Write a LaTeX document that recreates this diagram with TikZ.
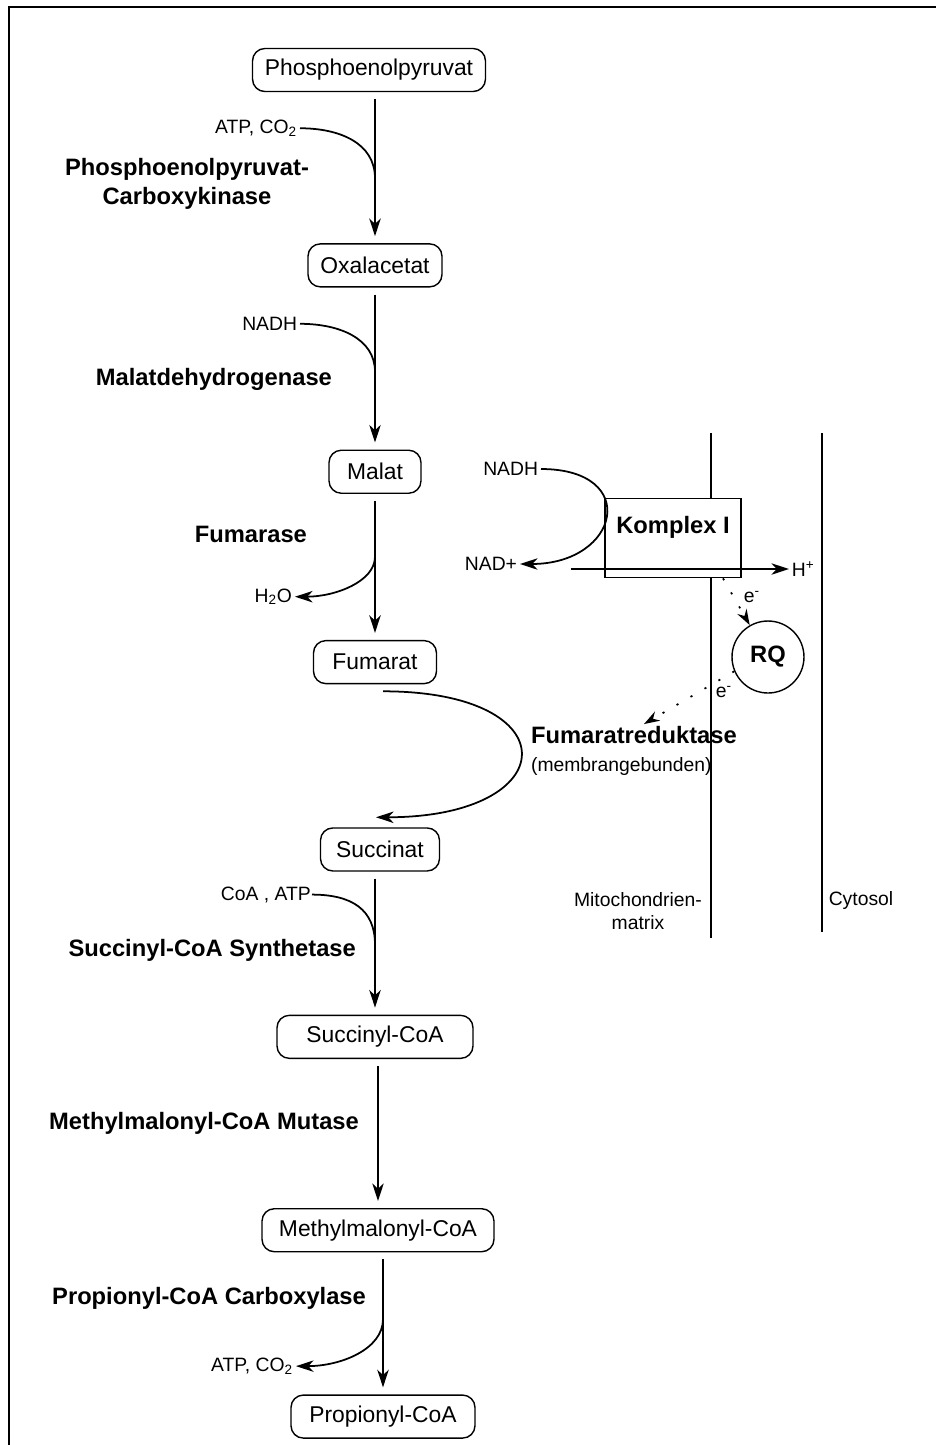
\documentclass[tikz,border=0pt]{standalone}
\usepackage{fontspec}
\setmainfont{Liberation Sans}
\usetikzlibrary{arrows.meta,positioning}

\begin{document}
\begin{tikzpicture}[
  x=0.02cm, y=-0.02cm,
  node distance=2.9cm,
  metab/.style={draw, rounded corners=7pt, align=center, minimum height=0.86cm,
    line width=0.8pt, font=\fontsize{13}{15.6}\selectfont},
  enz/.style={align=center, inner sep=1pt, font=\fontsize{13.5}{16.2}\selectfont\bfseries},
  cof/.style={inner sep=1.5pt, font=\fontsize{11}{13.2}\selectfont},
  arrow/.style={-{Stealth[length=10pt, width=6.5pt, inset=3pt]}, line width=1pt},
  side/.style={line width=1pt},
  eflow/.style={-{Stealth[length=9pt, width=6pt, inset=3pt]}, line width=1pt,
    dash pattern=on 1.2pt off 8pt},
  membrane/.style={line width=1pt}
]
\useasboundingbox (0,0) rectangle (936,1445);
\draw[line width=1.5pt] (9,1445) -- (9,7) -- (936,7);

% Stoffwechselweg
\node[metab, minimum width=4.66cm] (pep) at (369,70) {Phosphoenolpyruvat};
\node[metab, minimum width=2.68cm, below=3.02cm of pep, xshift=0.12cm] (oxal) {Oxalacetat};
\node[metab, minimum width=1.84cm, below=3.24cm of oxal] (malat) {Malat};
\node[metab, minimum width=2.46cm, below=2.92cm of malat] (fum) {Fumarat};
\node[metab, minimum width=2.38cm, below=2.86cm of fum, xshift=0.1cm] (succ) {Succinat};
\node[metab, minimum width=3.92cm, below=2.86cm of succ, xshift=-0.1cm] (succoa) {Succinyl-CoA};
\node[metab, minimum width=4.64cm, below=2.98cm of succoa, xshift=0.06cm] (mmcoa) {Methylmalonyl-CoA};
\node[metab, minimum width=3.68cm, below=2.84cm of mmcoa, xshift=0.1cm] (propcoa) {Propionyl-CoA};

\draw[arrow, shorten <=4pt, shorten >=4pt] (pep.south -| oxal) -- coordinate[pos=0.57] (j1) (oxal);
\draw[arrow, shorten <=4pt, shorten >=4pt] (oxal) -- coordinate[pos=0.52] (j2) (malat);
\draw[arrow, shorten <=4pt, shorten >=4pt] (malat) -- coordinate[pos=0.43] (j3) (fum);
\draw[arrow] ([shift={(8,7)}]fum.south) .. controls +(188,0) and +(188,0) .. ([shift={(-4,-10)}]succ.north);
\draw[arrow, shorten <=4pt, shorten >=4pt] (succ.south -| succoa) -- coordinate[pos=0.51] (j4) (succoa);
\draw[arrow, shorten <=4pt, shorten >=4pt] (succoa.south -| mmcoa) -- (mmcoa);
\draw[arrow, shorten <=4pt, shorten >=4pt] (mmcoa.south -| propcoa) -- coordinate[pos=0.47] (j5) (propcoa);

% Cosubstrate
\node[cof, anchor=east] (atp1) at ([shift={(-75,-50)}]j1) {ATP, CO\textsubscript{2}};
\draw[side] (atp1.east) .. controls +(40,0) and +(0,-35) .. (j1);
\node[cof, anchor=east] (nadh1) at ([shift={(-75,-48)}]j2) {NADH};
\draw[side] (nadh1.east) .. controls +(40,0) and +(0,-33) .. (j2);
\node[cof, anchor=east] (h2o) at ([shift={(-80,40)}]j3) {H\textsubscript{2}O};
\draw[arrow] (j3) .. controls +(0,25) and +(40,0) .. (h2o.east);
\node[cof, anchor=east, inner sep=0.5pt] (coa) at ([shift={(-63,-50)}]j4) {CoA , ATP};
\draw[side] (coa.east) .. controls +(40,0) and +(0,-35) .. (j4);
\node[cof, anchor=east] (atp2) at ([shift={(-87,47)}]j5) {ATP, CO\textsubscript{2}};
\draw[arrow] (j5) .. controls +(0,30) and +(45,0) .. (atp2.east);

% Enzyme
\node[enz, anchor=east] (pepck) at (311,184) {Phosphoenolpyruvat-\\Carboxykinase};
\node[enz, anchor=east] (mdh) at (334,379) {Malatdehydrogenase};
\node[enz, anchor=east] (fumase) at (309,534) {Fumarase};
\node[enz, anchor=east] (scs) at (358,950) {Succinyl-CoA Synthetase};
\node[enz, anchor=east] (mcm) at (361,1123) {Methylmalonyl-CoA Mutase};
\node[enz, anchor=east] (pcc) at (368,1298) {Propionyl-CoA Carboxylase};

% Membran
\coordinate (mtop) at (711,433);
\coordinate (mbot) at (711,938);
\coordinate (ctop) at (822,433);
\coordinate (cbot) at (822,932);
\draw[membrane] (mtop) -- (mbot);
\draw[membrane] (ctop) -- (cbot);

\node[draw, fill=white, line width=1pt, minimum width=2.72cm, minimum height=1.58cm] (kompl) at (673,538) {};
\node[enz] (komplt) at ([yshift=0.22cm]kompl.center) {Komplex I};
\node[cof, anchor=east] (nadhk) at (541,469) {NADH};
\node[cof, anchor=east] (nadk) at (520,564) {NAD+};
\draw[arrow] (nadhk.east) .. controls +(100,0) and +(100,0) .. (nadk.east);
\coordinate (hin) at (571,569);
\node[cof, anchor=west] (hplus) at (789,569) {H\textsuperscript{+}};
\draw[arrow] (hin) -- (hplus);

\node[draw, circle, enz, line width=0.8pt, minimum size=1.44cm] (rq) at (768,657) {RQ};
\node[cof] (e1) at (752,597) {e\textsuperscript{-}};
\node[cof] (e2) at (724,692) {e\textsuperscript{-}};
\draw[eflow] ([xshift=1cm]kompl.south) -- (rq);
\node[enz, anchor=west, align=left] (frd) at (529,751) {Fumaratreduktase\\{\mdseries\fontsize{11}{13.2}\selectfont (membrangebunden)}};
\draw[eflow] (rq.203) -- ([xshift=0.2cm]frd.north);

\node[cof, align=center] (mito) at (638,911) {Mitochondrien-\\matrix};
\node[cof] (cyto) at (861,900) {Cytosol};
\end{tikzpicture}
\end{document}
